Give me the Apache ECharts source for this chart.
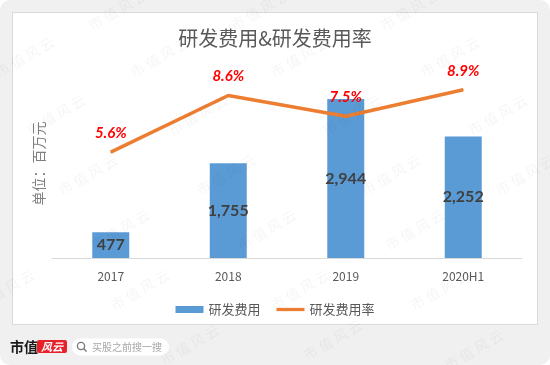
<!DOCTYPE html>
<html>
<head>
<meta charset="utf-8">
<script src="https://cdn.jsdelivr.net/npm/echarts@6/dist/echarts.min.js"></script>
<style>
  html, body { margin: 0; padding: 0; background: #ffffff; }
  #chart { width: 550px; height: 365px; }
</style>
</head>
<body>
<div id="chart"></div>
<script>
// 数据
var years = ['2017', '2018', '2019', '2020H1'];
var rdCost = [477, 1755, 2944, 2252];      // 研发费用（百万元）
var rdRate = [5.6, 8.6, 7.5, 8.9];          // 研发费用率（%）

// 水印位置（装饰用）
var markX = [118, 260, 410, 25, 160, 300, 450, 56, 198, 352, 498, 88, 226, 391, 525, 120, 267, 415, 5, 140, 300, 440, 190, 333, 474];
var markY = [10, 10, 10, 57, 57, 57, 57, 115, 115, 115, 115, 175, 175, 175, 175, 230, 230, 230, 290, 290, 290, 290, 345, 340, 350];

var cjk = '"Noto Sans CJK SC", sans-serif';
var num = 'Lato, "Open Sans", sans-serif';

var myChart = echarts.init(document.getElementById('chart'));

var graphics = [
    // 背景
    { type: 'rect', z: -10, shape: { x: 0, y: 0, width: 550, height: 365, r: 10 }, style: { fill: '#f0f0f0' } },
    { type: 'rect', z: -9, shape: { x: 12.5, y: 12.5, width: 525, height: 312 }, style: { fill: '#ffffff', stroke: '#d9d9d9', lineWidth: 1 } },
    // 底部 logo
    { type: 'text', x: 10, y: 347, style: { text: '市值', font: 'bold 14px ' + cjk, fill: '#1a1a1a', verticalAlign: 'middle' } },
    { type: 'rect', shape: { x: 37, y: 340, width: 30, height: 13, r: 2 }, style: { fill: '#e8202a' } },
    { type: 'text', x: 52, y: 346.5, style: { text: '风云', font: 'italic bold 11px ' + cjk, fill: '#ffffff', align: 'center', verticalAlign: 'middle' } },
    // 搜索框
    { type: 'rect', shape: { x: 72, y: 338.5, width: 97, height: 17, r: 8.5 }, style: { fill: '#ffffff' } },
    { type: 'circle', shape: { cx: 81, cy: 346, r: 3.6 }, style: { fill: 'none', stroke: '#777777', lineWidth: 1.3 } },
    { type: 'line', shape: { x1: 83.6, y1: 348.6, x2: 86.5, y2: 351.5 }, style: { stroke: '#777777', lineWidth: 1.4 } },
    { type: 'text', x: 92, y: 347, style: { text: '买股之前搜一搜', font: '10px ' + cjk, fill: '#a6a6a6', verticalAlign: 'middle' } }
];

markX.forEach(function(x, i) {
    graphics.push({
        type: 'text', z: 100, x: x, y: markY[i], rotation: Math.PI / 6,
        style: { text: '市 值 风 云', font: '14px ' + cjk, fill: 'rgba(0,0,0,0.045)', align: 'center', verticalAlign: 'middle' }
    });
});

var option = {
    animation: false,
    title: {
        text: '研发费用&研发费用率',
        left: 'center',
        top: 23,
        textStyle: { color: '#595959', fontSize: 20, fontWeight: 'normal', fontFamily: cjk }
    },
    legend: {
        left: 'center',
        top: 298,
        itemWidth: 28,
        itemHeight: 7,
        itemGap: 16,
        textStyle: { color: '#595959', fontSize: 13, fontFamily: cjk },
        data: [
            { name: '研发费用', icon: 'rect' },
            { name: '研发费用率', icon: 'path://M0,0L30,0L30,3.5L0,3.5Z' }
        ]
    },
    grid: { left: 52, right: 28, top: 69, bottom: 107 },
    xAxis: {
        type: 'category',
        data: years,
        axisLine: { lineStyle: { color: '#d9d9d9' } },
        axisTick: { show: false },
        axisLabel: { color: '#595959', fontSize: 12, margin: 12, fontFamily: cjk }
    },
    yAxis: [
        {
            type: 'value',
            min: 0,
            max: 3500,
            name: '单位：百万元',
            nameLocation: 'middle',
            nameRotate: 90,
            nameGap: 6,
            nameTextStyle: { color: '#7f7f7f', fontSize: 14, fontFamily: cjk },
            axisLine: { show: false },
            axisTick: { show: false },
            axisLabel: { show: false },
            splitLine: { show: false }
        },
        {
            type: 'value',
            min: 0,
            max: 10,
            show: false,
            splitLine: { show: false }
        }
    ],
    series: [
        {
            name: '研发费用',
            type: 'bar',
            barWidth: 37,
            data: rdCost,
            itemStyle: { color: '#5b9bd5' },
            label: {
                show: true,
                position: 'inside',
                color: '#404040',
                fontSize: 16,
                fontWeight: 'bold',
                fontFamily: num,
                formatter: function(p) { return p.value.toLocaleString('en-US'); }
            }
        },
        {
            name: '研发费用率',
            type: 'line',
            yAxisIndex: 1,
            data: rdRate,
            symbol: 'circle',
            symbolSize: 1,
            itemStyle: { color: '#ed7d31' },
            lineStyle: { color: '#ed7d31', width: 3.5 },
            label: {
                show: true,
                position: 'top',
                distance: 11,
                color: '#ff0000',
                fontSize: 15,
                fontWeight: 'bold',
                fontStyle: 'italic',
                fontFamily: num,
                formatter: function(p) { return p.value.toFixed(1) + '%'; }
            }
        }
    ],
    graphic: graphics
};

myChart.setOption(option);

window.addEventListener('resize', function() {
    myChart.resize();
});
</script>
</body>
</html>
